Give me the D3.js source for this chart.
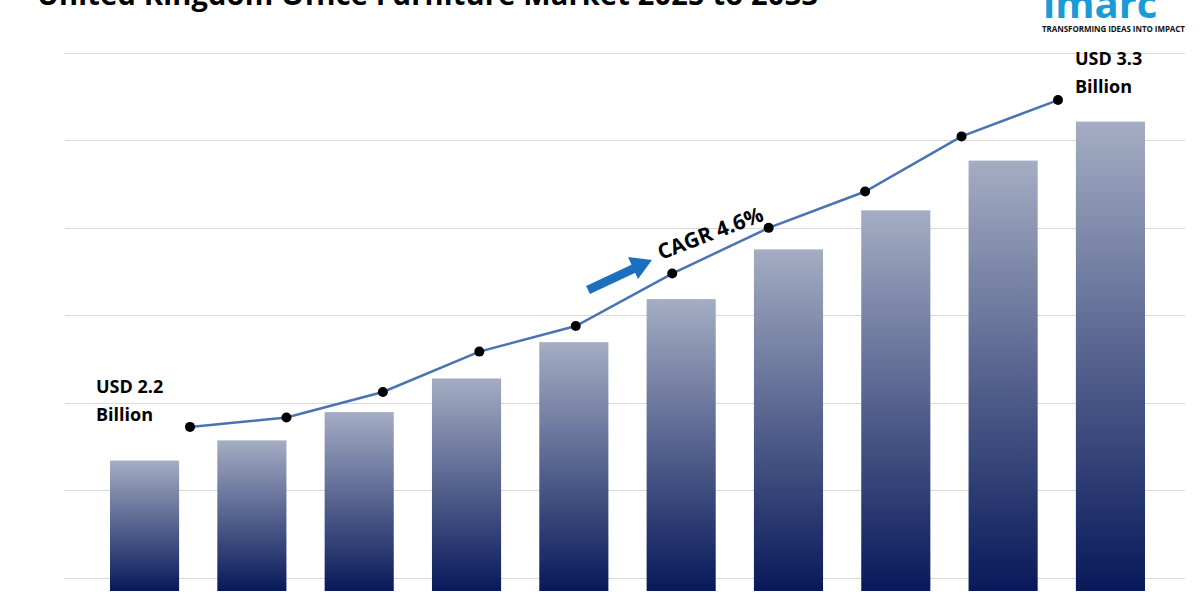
<!DOCTYPE html><html><head><script src="https://cdn.jsdelivr.net/npm/d3@7"></script>
<style>body{margin:0;background:#fff}text{font-family:"Open Sans",sans-serif}</style></head><body><svg id="c" width="1200" height="600"></svg>
<script>
const years=["2025","2026","2027","2028","2029","2030","2031","2032","2033","2034"];
const barValues=[0.97,1.12,1.33,1.58,1.85,2.17,2.54,2.83,3.20,3.49];
const lineValues=[1.22,1.29,1.48,1.78,1.97,2.36,2.70,2.97,3.38,3.65];
const gridTicks=[0.1,0.75,1.4,2.05,2.7,3.35,4];
const svg=d3.select("#c");
const y=d3.scaleLinear().domain([0,4]).range([591,53]);
const x=d3.scaleBand().domain(years).range([110,1145]).paddingInner(0.356).paddingOuter(0);
const xl=d3.scalePoint().domain(years).range([190,1058]);
const g=svg.append("defs").append("linearGradient").attr("id","bg").attr("x1",0).attr("x2",0).attr("y1",0).attr("y2",1);
g.append("stop").attr("offset","0%").attr("stop-color","#a4adc3");
g.append("stop").attr("offset","100%").attr("stop-color","#08195a");
svg.append("g").selectAll("line").data(gridTicks).join("line").attr("x1",65).attr("x2",1185)
 .attr("y1",d=>Math.round(y(d))+0.5).attr("y2",d=>Math.round(y(d))+0.5).attr("stroke","#d9d9d9");
svg.append("g").selectAll("rect").data(barValues).join("rect").attr("x",(d,i)=>x(years[i])).attr("width",x.bandwidth())
 .attr("y",d=>y(d)).attr("height",d=>y(0)-y(d)).attr("fill","url(#bg)");
svg.append("path").datum(lineValues).attr("d",d3.line().x((d,i)=>xl(years[i])).y(d=>y(d))).attr("fill","none").attr("stroke","#4a73b2").attr("stroke-width",2.5);
svg.append("g").selectAll("circle").data(lineValues).join("circle").attr("cx",(d,i)=>xl(years[i])).attr("cy",d=>y(d)).attr("r",5).attr("fill","#000");
svg.append("text").attr("x",37).attr("y",5).attr("font-size",29).attr("font-weight",700).attr("fill","#000").attr("textLength",781)
 .text("United Kingdom Office Furniture Market 2025 to 2033");
svg.append("text").attr("x",1043).attr("y",18).attr("font-size",40).attr("font-weight",700).attr("fill","#1a9ad6").attr("font-family","Lato").text("imarc");
svg.append("text").attr("x",1042).attr("y",32).attr("font-size",8).attr("font-weight",700).attr("fill","#111").attr("textLength",143).text("TRANSFORMING IDEAS INTO IMPACT");
function lab(x0,y0,t){const tx=svg.append("text").attr("x",x0).attr("y",y0).attr("font-size",18).attr("font-weight",700).attr("fill","#000");
 tx.append("tspan").attr("x",x0).text(t);tx.append("tspan").attr("x",x0).attr("dy",28).text("Billion");}
lab(96,393,"USD 2.2");lab(1075,65,"USD 3.3");
svg.append("line").attr("x1",588).attr("y1",290).attr("x2",635).attr("y2",268).attr("stroke","#1a6fbf").attr("stroke-width",9);
svg.append("path").attr("d","M628,257 L652,260 L638,279 Z").attr("fill","#1a6fbf");
svg.append("text").attr("transform","translate(661,260) rotate(-21)").attr("font-size",21).attr("font-weight",700).attr("fill","#000").text("CAGR  4.6%");
</script></body></html>
